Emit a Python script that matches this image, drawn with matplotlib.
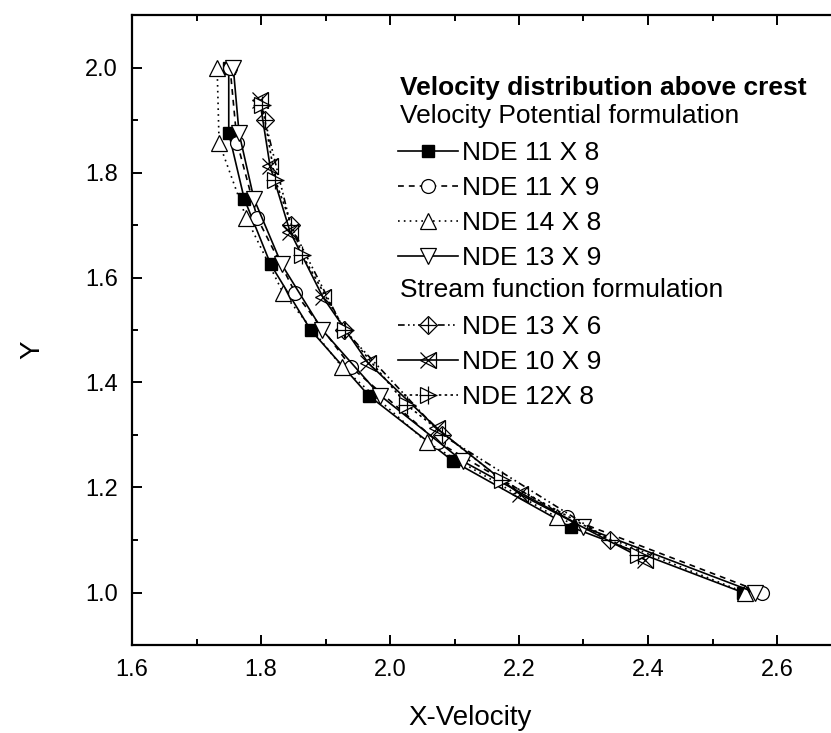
import matplotlib
matplotlib.use('Agg')
import matplotlib.pyplot as plt
from matplotlib.ticker import MultipleLocator, FormatStrFormatter

plt.rcParams['font.family'] = ['Liberation Sans', 'DejaVu Sans']

# Velocity Potential formulation
y_11x8 = [2.0, 1.875, 1.75, 1.625, 1.5, 1.375, 1.25, 1.125, 1.0]
x_11x8 = [1.750, 1.750, 1.774, 1.815, 1.877, 1.967, 2.098, 2.280, 2.547]

y_11x9 = [2.0, 1.857, 1.714, 1.571, 1.429, 1.286, 1.143, 1.0]
x_11x9 = [1.752, 1.763, 1.794, 1.853, 1.940, 2.075, 2.274, 2.577]

y_14x8 = [2.0, 1.857, 1.714, 1.571, 1.429, 1.286, 1.143, 1.0]
x_14x8 = [1.732, 1.735, 1.777, 1.834, 1.926, 2.057, 2.259, 2.550]

y_13x9 = [2.0, 1.875, 1.75, 1.625, 1.5, 1.375, 1.25, 1.125, 1.0]
x_13x9 = [1.757, 1.766, 1.789, 1.832, 1.895, 1.985, 2.113, 2.299, 2.566]

# Stream function formulation
y_13x6 = [1.9, 1.7, 1.5, 1.3, 1.1]
x_13x6 = [1.806, 1.846, 1.929, 2.081, 2.341]

y_10x9 = [1.9375, 1.8125, 1.6875, 1.5625, 1.4375, 1.3125, 1.1875, 1.0625]
x_10x9 = [1.798, 1.814, 1.845, 1.896, 1.966, 2.073, 2.201, 2.395]

y_12x8 = [1.929, 1.786, 1.643, 1.5, 1.357, 1.214, 1.071]
x_12x8 = [1.802, 1.822, 1.864, 1.930, 2.026, 2.174, 2.385]

W, H = 831, 733
fig = plt.figure(figsize=(W / 100, H / 100), dpi=100)
# axes: 1.6 -> x=132px, 2.7 -> 841px (off canvas), 0.9 -> y=645px, 2.1 -> y=15px
ax = fig.add_axes([132 / W, (H - 645) / H, 709.5 / W, 630 / H])

lw = 1.2
l1, = ax.plot(x_11x8, y_11x8, color='black', lw=lw, ls='-', marker='s', ms=8.5,
              mfc='black', mec='black')
l2, = ax.plot(x_11x9, y_11x9, color='black', lw=lw, ls=(0, (3.5, 3)), marker='o', ms=10,
              mfc='white', mec='black', mew=0.9)
l3, = ax.plot(x_14x8, y_14x8, color='black', lw=lw, ls=(0, (1, 2.5)), marker='^', ms=11,
              mfc='white', mec='black', mew=0.9)
l4, = ax.plot(x_13x9, y_13x9, color='black', lw=lw, ls='-', marker='v', ms=11,
              mfc='white', mec='black', mew=0.9)

l5, = ax.plot(x_13x6, y_13x6, color='black', lw=lw, ls=(0, (4, 2, 1, 2, 1, 2)), marker='D',
              ms=9, mfc='white', mec='black', mew=0.9)
l5b, = ax.plot(x_13x6, y_13x6, ls='none', marker='+', ms=12, mec='black', mew=0.9)
l6, = ax.plot(x_10x9, y_10x9, color='black', lw=lw, ls='-', marker='<', ms=11,
              mfc='none', mec='black', mew=0.9)
l6b, = ax.plot(x_10x9, y_10x9, ls='none', marker='x', ms=11, mec='black', mew=0.9)
l7, = ax.plot(x_12x8, y_12x8, color='black', lw=lw, ls=(0, (1.5, 2)), marker='>', ms=11,
              mfc='white', mec='black', mew=0.9)
l7b, = ax.plot(x_12x8, y_12x8, ls='none', marker='+', ms=13, mec='black', mew=0.9)

ax.set_xlim(1.6, 2.7)
ax.set_ylim(0.9, 2.1)
ax.xaxis.set_major_locator(MultipleLocator(0.2))
ax.xaxis.set_minor_locator(MultipleLocator(0.1))
ax.yaxis.set_major_locator(MultipleLocator(0.2))
ax.yaxis.set_minor_locator(MultipleLocator(0.1))
ax.xaxis.set_major_formatter(FormatStrFormatter('%.1f'))
ax.yaxis.set_major_formatter(FormatStrFormatter('%.1f'))
ax.tick_params(which='both', direction='in', top=True, right=True, width=1.4,
               labelsize=17)
ax.tick_params(which='major', length=7, pad=10)
ax.tick_params(which='minor', length=4)
for s in ax.spines.values():
    s.set_linewidth(1.6)

ax.set_xlabel('X-Velocity', fontsize=20)
ax.set_ylabel('Y', fontsize=20)
ax.xaxis.set_label_coords(0.476, -0.095)
ax.yaxis.set_label_coords(-0.122, 0.468)

# legend block
fs = 19
fig.text(400 / W, 1 - 88 / H, 'Velocity distribution above crest', fontsize=fs,
         fontweight='bold', va='center', ha='left')
fig.text(400 / W, 1 - 116 / H, 'Velocity Potential formulation', fontsize=fs,
         va='center', ha='left')
fig.text(400 / W, 1 - 290 / H, 'Stream function formulation', fontsize=fs,
         va='center', ha='left')

leg_kw = dict(frameon=False, fontsize=fs, handlelength=2.27, handletextpad=0.15,
              labelspacing=0.42, borderpad=0, borderaxespad=0, loc='upper left',
              bbox_transform=fig.transFigure)
leg1 = fig.legend([l1, l2, l3, l4], ['NDE 11 X 8', 'NDE 11 X 9', 'NDE 14 X 8', 'NDE 13 X 9'],
                  bbox_to_anchor=(398 / W, 1 - 141 / H), **leg_kw)
leg2 = fig.legend([(l5, l5b), (l6, l6b), (l7, l7b)], ['NDE 13 X 6', 'NDE 10 X 9', 'NDE 12X 8'],
                  bbox_to_anchor=(398 / W, 1 - 315 / H), **leg_kw)

plt.savefig('out.png', dpi=100)
